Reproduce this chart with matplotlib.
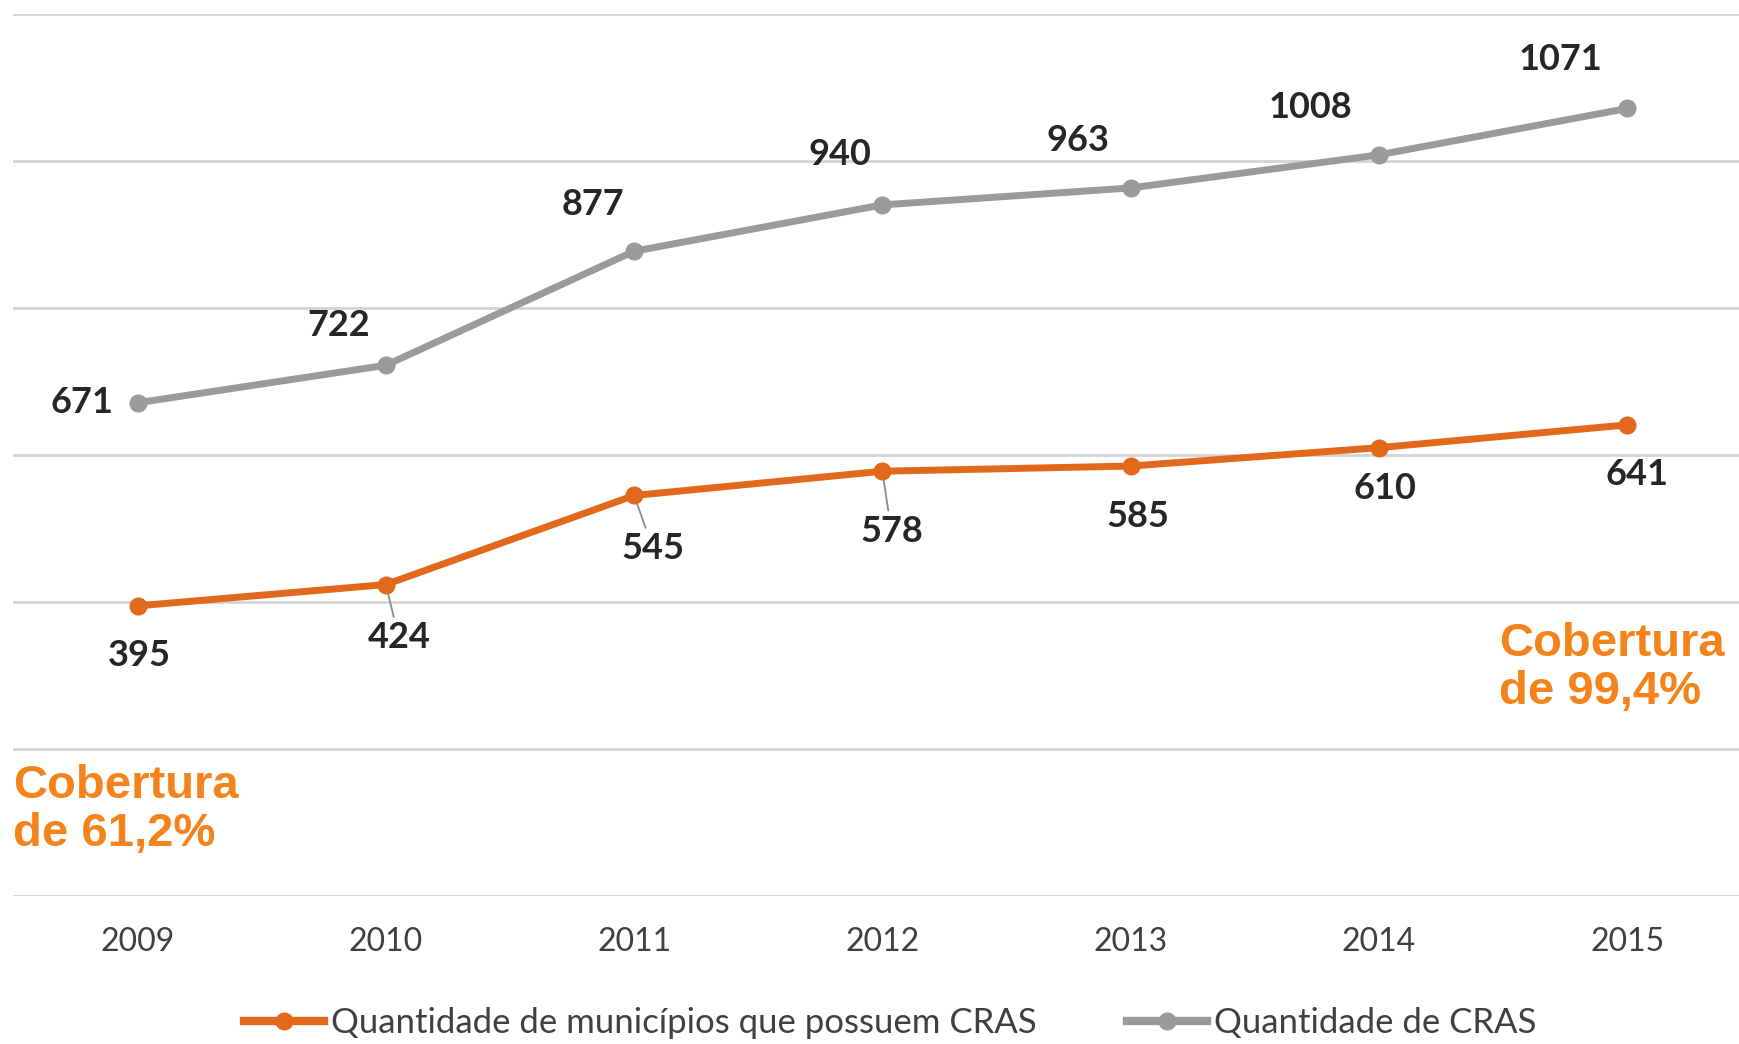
import matplotlib
matplotlib.use("Agg")
import matplotlib.pyplot as plt
from matplotlib.ticker import MultipleLocator
from matplotlib.lines import Line2D

# data
anos = ["2009", "2010", "2011", "2012", "2013", "2014", "2015"]
municipios_cras = [395, 424, 545, 578, 585, 610, 641]
qtd_cras = [671, 722, 877, 940, 963, 1008, 1071]

LABEL_MUN = "Quantidade de municípios que possuem CRAS"
LABEL_CRAS = "Quantidade de CRAS"
TXT_INICIO = "Cobertura\nde 61,2%"
TXT_FIM = "Cobertura\nde 99,4%"

ORANGE = "#E2691B"
ORANGE_TXT = "#F5831C"
GRAY = "#9A9A9A"
GRID = "#D4D4D4"
DARK = "#262626"

# label offsets (pixels) relative to each point
OFF_CRAS = [(-56, 0), (-47, 40), (-41, 47), (-42, 50), (-53, 47), (-68, 47), (-67, 49)]
OFF_MUN = [(2, -50), (13, -53), (19, -53), (9, -60), (7, -50), (6, -41), (10, -50)]
LEADER = [False, True, True, True, False, False, False]

plt.rcParams['font.family'] = ['Lato', 'DejaVu Sans']

fig = plt.figure(figsize=(17.39, 10.44), dpi=100)
ax = fig.add_axes([0.0077, 0.1413, 0.9994, 0.8457])

x = list(range(len(anos)))
ax.plot(x, municipios_cras, color=ORANGE, lw=5, marker="o", ms=12, solid_capstyle="round", zorder=3)
ax.plot(x, qtd_cras, color=GRAY, lw=5, marker="o", ms=12, solid_capstyle="round", zorder=3)

for i, v in enumerate(qtd_cras):
    ax.annotate(str(v), (i, v), xytext=OFF_CRAS[i], textcoords="offset pixels",
                ha="center", va="center", fontsize=26, fontweight="bold", color=DARK)

for i, v in enumerate(municipios_cras):
    arrow = dict(arrowstyle="-", color="#8C8C8C", lw=1.3, shrinkA=1, shrinkB=3) if LEADER[i] else None
    ax.annotate(str(v), (i, v), xytext=OFF_MUN[i], textcoords="offset pixels",
                ha="center", va="center", fontsize=26, fontweight="bold", color=DARK,
                arrowprops=arrow, zorder=2)

ax.set_xlim(-0.5, 6.5)
ax.set_ylim(0, 1200)
ax.yaxis.set_major_locator(MultipleLocator(200))
ax.grid(axis="y", color=GRID, lw=2)
ax.set_axisbelow(True)
ax.set_yticklabels([])
ax.tick_params(axis="y", length=0)
ax.set_xticks(x)
ax.set_xticklabels(anos, fontsize=23, color="#404040")
ax.tick_params(axis="x", length=0, pad=22)
for s in ax.spines.values():
    s.set_visible(False)

fig.text(0.0075, 0.224, TXT_INICIO, color=ORANGE_TXT, fontsize=34, fontweight="bold",
         family="Liberation Sans", va="center", ha="left", linespacing=1.1)
fig.text(0.862, 0.360, TXT_FIM, color=ORANGE_TXT, fontsize=34, fontweight="bold",
         family="Liberation Sans", va="center", ha="left", linespacing=1.1)

handles = [Line2D([], [], color=ORANGE, lw=6, marker="o", ms=12),
           Line2D([], [], color=GRAY, lw=6, marker="o", ms=12)]
fig.legend(handles, [LABEL_MUN, LABEL_CRAS], loc="center", bbox_to_anchor=(0.512, 0.020),
           ncol=2, frameon=False, fontsize=25, handlelength=2.3, handletextpad=0.2,
           columnspacing=2.6, labelcolor="#404040")

fig.savefig("out.png", dpi=100)
